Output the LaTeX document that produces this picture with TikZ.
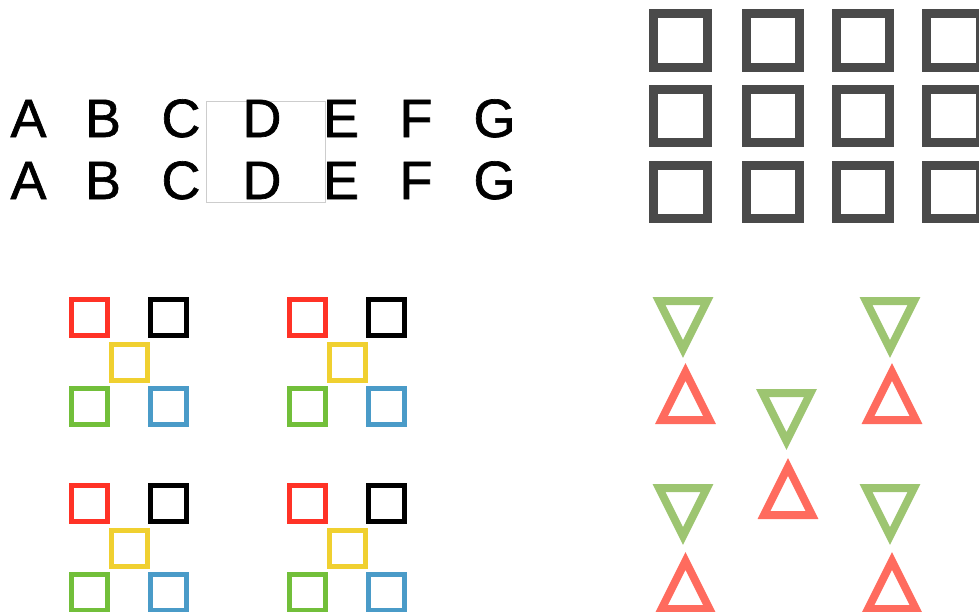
\documentclass[tikz,border=0pt]{standalone}
\usepackage{fontspec}
\setmainfont{Liberation Sans}
\newfontfamily\letterfont[FakeBold=1.2]{Liberation Sans}
\definecolor{sqgray}{RGB}{74,74,74}
\definecolor{sqred}{RGB}{255,50,38}
\definecolor{sqyellow}{RGB}{240,208,48}
\definecolor{sqgreen}{RGB}{114,191,58}
\definecolor{sqblue}{RGB}{74,155,200}
\definecolor{trigreen}{RGB}{157,197,113}
\definecolor{trired}{RGB}{255,107,94}
\definecolor{boxgray}{RGB}{205,205,205}
\tikzset{
  letter/.style={anchor=base,inner sep=0pt,font=\letterfont\fontsize{54}{60}\selectfont},
  bigsq/.style={draw=sqgray,line width=9pt,minimum size=53.5pt,inner sep=0pt,rectangle},
  smallsq/.style={draw=#1,line width=5pt,minimum size=36pt,inner sep=0pt,rectangle},
  tridown/.style={draw=trigreen,line width=8pt,line join=miter},
  triup/.style={draw=trired,line width=8pt,line join=miter},
}
\newcommand{\downtri}[2]{\draw[tridown] (#1-24,#2+4) -- (#1+24,#2+4) -- (#1,#2+52) -- cycle;}
\newcommand{\uptri}[2]{\draw[triup] (#1-24,#2-4) -- (#1+24,#2-4) -- (#1,#2-52) -- cycle;}
\begin{document}
\begin{tikzpicture}[x=1pt,y=-1pt]
\useasboundingbox (0,0) rectangle (979,611);
\clip (0,0) rectangle (979,611);
% letters
\draw[boxgray,line width=1pt] (206,101) rectangle (325,202);
\foreach \l/\x in {A/28.5,B/103,C/181,D/262,E/341,F/416,G/494.5}{
  \node[letter] (\l1) at (\x,137) {\l};
  \node[letter] (\l2) at (\x,199) {\l};
}
% gray squares
\foreach \x [count=\i] in {680.5,773,863,953.5}{
  \foreach \y [count=\j] in {40.5,116,192}{
    \node[bigsq] (g\i\j) at (\x,\y) {};
  }
}
% colored square groups
\foreach \dx/\dy [count=\k] in {0/0,218/0,0/186,218/186}{
  \begin{scope}[shift={(\dx,\dy)}]
    \node[smallsq=sqred] (r\k) at (89.5,317.5) {};
    \node[smallsq=black] (k\k) at (168,317.5) {};
    \node[smallsq=sqyellow] (y\k) at (129,362.5) {};
    \node[smallsq=sqgreen] (n\k) at (89.5,406.5) {};
    \node[smallsq=sqblue] (b\k) at (168,406.5) {};
  \end{scope}
}
% triangles
\downtri{683}{297}
\uptri{685.5}{424}
\downtri{890}{297}
\uptri{892}{424}
\downtri{786.5}{389}
\uptri{788}{519}
\downtri{683}{484}
\uptri{685.5}{613}
\downtri{890}{484}
\uptri{892}{613}
\end{tikzpicture}
\end{document}
